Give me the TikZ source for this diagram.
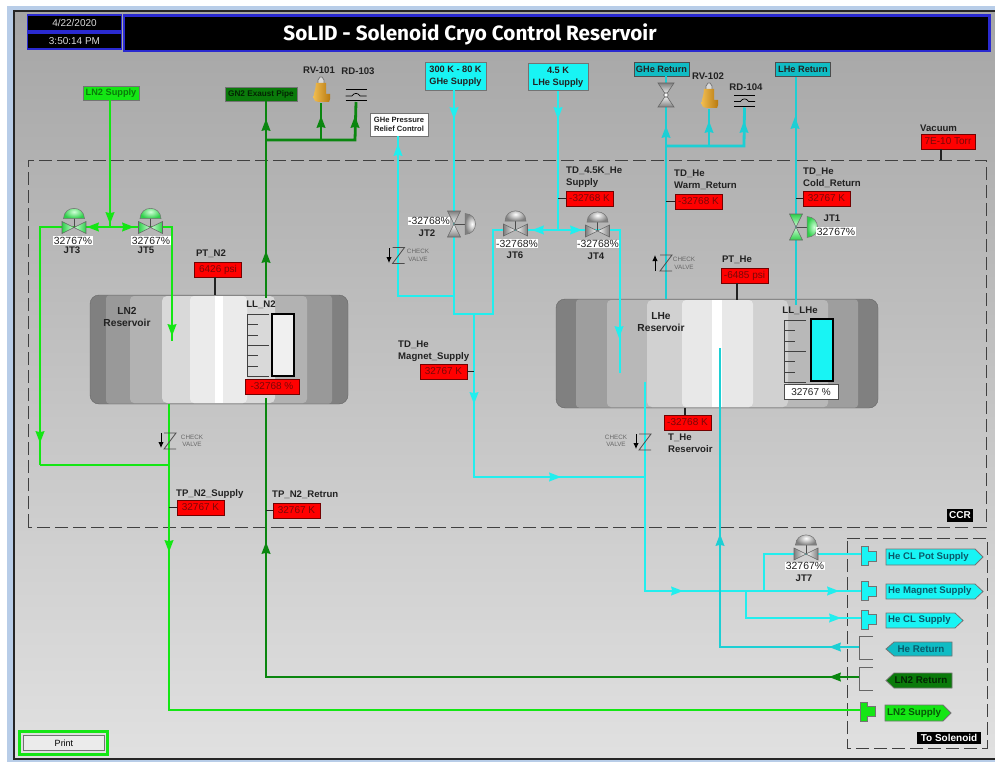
\documentclass[tikz,border=0pt]{standalone}
\usepackage{fontspec}
\usetikzlibrary{arrows.meta}
\setmainfont{Liberation Sans}
\newfontfamily\titlef{Fira Sans}
\definecolor{lnb}{HTML}{14E614}
\definecolor{lnd}{HTML}{0A860F}
\definecolor{cyb}{HTML}{22EEEE}
\definecolor{cyd}{HTML}{1CCFD4}
\definecolor{blu}{HTML}{2A2AD0}
\definecolor{redt}{HTML}{7A0808}
\definecolor{ink}{HTML}{222222}
\definecolor{tagd}{HTML}{0A7A0A}
\definecolor{tagc}{HTML}{10BCC4}
\definecolor{cyfill}{HTML}{18F4F4}
\definecolor{frm}{HTML}{B8CDE8}
\definecolor{tealt}{HTML}{0A5A6A}
\definecolor{brassa}{HTML}{F0BC50}
\definecolor{brassb}{HTML}{B87A10}
\definecolor{grn}{HTML}{2FD04A}
\definecolor{grl}{HTML}{D0FFD8}
\tikzset{
 pipeL/.style={draw=lnb,line width=2.8pt},
 pipeD/.style={draw=lnd,line width=2.8pt},
 pipeC/.style={draw=cyb,line width=2.8pt},
 pipeR/.style={draw=cyd,line width=2.8pt},
 stem/.style={draw=ink,line width=1.1pt},
 lab/.style={font=\bfseries\fontsize{9.6}{12}\selectfont,text=ink,inner sep=0pt,align=left},
 redv/.style={draw=black!55!red,line width=.8pt,fill=red,text=redt,font=\fontsize{10}{12}\selectfont,minimum width=47pt,minimum height=15pt,inner sep=0pt},
 valv/.style={fill=white,text=ink,font=\fontsize{10.4}{12}\selectfont,inner sep=.6pt},
 tagbox/.style={draw=black!55,line width=.8pt,font=\bfseries\fontsize{9.2}{12}\selectfont,inner sep=0pt,align=center},
 chk/.style={text=black!60,font=\fontsize{6.3}{7.5}\selectfont,inner sep=0pt,align=center},
 blk/.style={fill=black,text=white,font=\bfseries\fontsize{10}{12}\selectfont,inner sep=0pt},
 dsh/.style={draw=black!75,line width=.9pt,dash pattern=on 13pt off 5pt},
}
% arrows on the pipes
\newcommand\aD[3]{\fill[#3,shift={(#1,#2)}] (-4.6,-6) -- (0,-4.8) -- (4.6,-6) -- (0,6) -- cycle;}
\newcommand\aU[3]{\fill[#3,shift={(#1,#2)}] (-4.6,6) -- (0,4.8) -- (4.6,6) -- (0,-6) -- cycle;}
\newcommand\aL[3]{\fill[#3,shift={(#1,#2)}] (6,-4.6) -- (4.8,0) -- (6,4.6) -- (-6,0) -- cycle;}
\newcommand\aR[3]{\fill[#3,shift={(#1,#2)}] (-6,-4.6) -- (-4.8,0) -- (-6,4.6) -- (6,0) -- cycle;}
% control valves: horizontal body with dome on top
\newcommand\hvalve[5]{\coordinate (#1) at (#2,#3);
 \begin{scope}[shift={(#2,#3)}]
 \draw[draw=black!70,line width=1pt] (0,0) -- (0,-10);
 \shade[inner color=#4,outer color=#5,draw=black!55,line width=.5pt] (-10.5,-9) .. controls (-10,-22.5) and (10,-22.5) .. (10.5,-9) -- cycle;
 \shade[left color=#5,right color=#4,draw=black!60,line width=.6pt] (-12,-6) -- (0,0) -- (-12,6) -- cycle;
 \shade[left color=#4,right color=#5,draw=black!60,line width=.6pt] (12,-6) -- (0,0) -- (12,6) -- cycle;
 \end{scope}}
% control valves: vertical body with dome on the right
\newcommand\vvalve[5]{\coordinate (#1) at (#2,#3);
 \begin{scope}[shift={(#2,#3)}]
 \draw[draw=black!70,line width=1pt] (0,0) -- (11,0);
 \shade[inner color=#4,outer color=#5,draw=black!55,line width=.5pt] (11,-10.5) .. controls (25,-10) and (25,10) .. (11,10.5) -- cycle;
 \shade[top color=#5,bottom color=#4,draw=black!60,line width=.6pt] (-6.5,-13) -- (0,0) -- (6.5,-13) -- cycle;
 \shade[top color=#4,bottom color=#5,draw=black!60,line width=.6pt] (-6.5,13) -- (0,0) -- (6.5,13) -- cycle;
 \end{scope}}
% relief valve
\newcommand\relief[3]{\coordinate (#1) at (#2,#3);
 \begin{scope}[shift={(#2,#3)}]
 \draw[black!55,line width=.7pt,fill=black!15] (-3,-19) -- (-3,-23) -- (-1,-26) -- (1,-26) -- (3,-23) -- (3,-19) -- cycle;
 \shade[left color=brassa,right color=brassb] (-5,-20) .. controls (-5,-14) and (-7.5,-10) .. (-7.5,-5) .. controls (-7.5,-2) and (-5,-1) .. (-2,-1) -- (8,-1) -- (9,-4) -- (9,-9) -- (5,-9) .. controls (5,-13) and (5,-16) .. (5,-20) -- cycle;
 \end{scope}}
% rupture disc
\newcommand\rdisc[3]{\coordinate (#1) at (#2,#3);
 \begin{scope}[shift={(#2,#3)}]
 \draw[black,line width=1pt] (-10.5,-12) -- (10.5,-12) (-10.5,-1) -- (10.5,-1);
 \draw[black,line width=.7pt] (-10.5,-6) -- (-4,-6) .. controls (-2,-9.5) and (2,-9.5) .. (4,-6) -- (10.5,-6);
 \end{scope}}
% check valve
\newcommand\checkv[2]{\begin{scope}[shift={(#1,#2)}]
 \draw[black!70,line width=.8pt] (-6,-8) -- (6,-8) -- (-6,8) -- (6,8);
 \end{scope}}
\newcommand\flag[4]{\coordinate (#1) at (#2,#3);
 \fill[#4,draw=black!55,line width=.6pt,shift={(#2,#3)}] (0,-9.5) -- (7,-9.5) -- (7,-5) -- (15,-5) -- (15,5) -- (7,5) -- (7,9.5) -- (0,9.5) -- cycle;}
\newcommand\brkt[3]{\coordinate (#1) at (#2,#3);
 \draw[black!60,line width=.8pt,shift={(#2,#3)}] (14,-11.5) -- (0,-11.5) -- (0,11.5) -- (14,11.5);}
\begin{document}
\begin{tikzpicture}[x=1pt,y=-1pt]
\useasboundingbox (0,0) rectangle (995,762);
% window
\fill[white] (0,0) rectangle (995,762);
\fill[frm] (7,6) rectangle (995,12);
\fill[frm] (7,6) rectangle (13,762);
\fill[black!85] (13,10) rectangle (995,12.5);
\fill[black!85] (13,10) rectangle (15,762);
\shade[top color=black!35,bottom color=black!12] (15,12.5) rectangle (995,758);
\fill[frm] (13,760) rectangle (995,762);
\fill[black!85] (13,758) rectangle (995,760);
% header
\node[draw=blu,line width=1.8pt,fill=black,text=black!15,font=\fontsize{10}{12}\selectfont,minimum width=94pt,minimum height=16.5pt,inner sep=0pt] (date) at (74.5,23) {4/22/2020};
\node[draw=blu,line width=1.8pt,fill=black,text=black!15,font=\fontsize{10}{12}\selectfont,minimum width=94pt,minimum height=16.5pt,inner sep=0pt] (time) at (74.5,41) {3:50:14 PM};
\fill[blu] (123,14) rectangle (991,52);
\fill[black] (125,17) rectangle (988,50);
\node[text=white,font=\titlef\bfseries\fontsize{20.7}{24}\selectfont,inner sep=0pt] (title) at (470,34) {SoLID - Solenoid Cryo Control Reservoir};
% region borders
\draw[dsh] (28,527) -- (28,160) -- (986,160) -- (986,527) -- cycle;
\draw[dsh] (847,538) -- (987,538) -- (987,748) -- (847,748) -- cycle;
\node[blk,minimum width=26pt,minimum height=13pt] (ccr) at (960,515.5) {CCR};
\node[blk,minimum width=64pt,minimum height=12pt] (tosol) at (949,737.5) {To Solenoid};
% reservoirs
\begin{scope}
\fill[black!50,draw=black!60,rounded corners=9pt] (90,295) rectangle (348,404);
\fill[black!40,rounded corners=3pt] (106,295.5) rectangle (332,403.5);
\fill[black!30,rounded corners=4pt] (130,296) rectangle (307,403);
\fill[black!15,rounded corners=5pt] (162,296) rectangle (275,403);
\fill[black!8,rounded corners=4pt] (190,296) rectangle (247,403);
\fill[white] (215,296) rectangle (223,403);
\coordinate (resN) at (219,350);
\fill[black!50,draw=black!60,rounded corners=9pt] (556,299) rectangle (878,408);
\fill[black!38,rounded corners=3pt] (576,299.5) rectangle (858,407.5);
\fill[black!28,rounded corners=4pt] (607,300) rectangle (828,407);
\fill[black!18,rounded corners=5pt] (647,300) rectangle (788,407);
\fill[black!9,rounded corners=4pt] (682,300) rectangle (753,407);
\fill[white] (712,300) rectangle (722,407);
\coordinate (resH) at (717,350);
\end{scope}
% source / sink boxes
\node[tagbox,fill=lnb,text=tagd,minimum width=56pt,minimum height=14pt] (lnsup) at (111,93) {LN2 Supply};
\node[tagbox,fill=tagd,text=black!70!tagd,font=\bfseries\fontsize{8.2}{10}\selectfont,minimum width=72pt,minimum height=14pt] (gnex) at (261,94) {GN2 Exaust Pipe};
\node[tagbox,fill=cyfill,text=ink,minimum width=61pt,minimum height=28pt] (ghesup) at (455.5,76) {300 K - 80 K\\GHe Supply};
\node[tagbox,fill=cyfill,text=ink,minimum width=60pt,minimum height=27pt] (lhesup) at (558,77) {4.5 K\\LHe Supply};
\node[tagbox,fill=tagc,text=ink,draw=black!70,minimum width=55pt,minimum height=14pt] (gheret) at (661.5,69) {GHe Return};
\node[tagbox,fill=tagc,text=ink,draw=black!70,minimum width=55pt,minimum height=14pt] (lheret) at (803,69.5) {LHe Return};
\node[tagbox,fill=white,text=ink,font=\bfseries\fontsize{7.6}{9.5}\selectfont,minimum width=58pt,minimum height=23pt] (relief) at (399,124.5) {GHe Pressure\\Relief Control};
% junctions
\coordinate (n1) at (110,227); \coordinate (n2) at (40,227); \coordinate (n3) at (172,227);
\coordinate (n4) at (172,341); \coordinate (n5) at (40,465); \coordinate (n6) at (169,465);
\coordinate (n7) at (169,404); \coordinate (n8) at (169,710); \coordinate (n9) at (266,140);
\coordinate (n10) at (355,140); \coordinate (n11) at (321,140); \coordinate (n12) at (266,298);
\coordinate (n13) at (266,398); \coordinate (n14) at (266,677);
\coordinate (c1) at (454,296); \coordinate (c2) at (398,296); \coordinate (c3) at (454,314);
\coordinate (c4) at (493,314); \coordinate (c5) at (493,230); \coordinate (c6) at (620,230);
\coordinate (c7) at (620,373); \coordinate (c8) at (558,230); \coordinate (c9) at (474,314);
\coordinate (c10) at (474,477); \coordinate (c11) at (645,477); \coordinate (c12) at (645,382);
\coordinate (c13) at (645,591); \coordinate (c14) at (764,591); \coordinate (c15) at (764,554);
\coordinate (c16) at (746,591); \coordinate (c17) at (746,618);
\coordinate (r1) at (666,299); \coordinate (r2) at (666,146); \coordinate (r3) at (709,146);
\coordinate (r4) at (744,146); \coordinate (r5) at (796,305); \coordinate (r6) at (720,647);
\coordinate (r7) at (720,348);
% connector flags
\flag{fPot}{861}{556}{cyfill}
\flag{fMag}{861}{591}{cyfill}
\flag{fCL}{861}{619.5}{cyfill}
\flag{fLN}{860}{711.5}{lnb}
\brkt{fHeR}{859}{647.5}
\brkt{fLNR}{859}{679}
\relief{rv1}{321}{103}
\rdisc{rd3}{356}{102}
\relief{rv2}{709}{109}
\rdisc{rd4}{744.5}{107.5}
% pipes
\draw[pipeL] (lnsup.south -| n1) -- (n1);
\draw[pipeL] (n5) -- (n2) -- (n3) -- (n4);
\draw[pipeL] (n5) -- (n6);
\draw[pipeL] (n7) -- (n8) -- (fLN |- n8);
\draw[pipeD] (gnex.south -| n9) -- (n12);
\draw[pipeD] (n9) -- (n10) -- (rd3);
\draw[pipeD] (n11) -- (rv1);
\draw[pipeD] (fLNR |- n14) -- (n14) -- (n13);
\draw[pipeC] (ghesup.south -| c1) -- (c3) -- (c4) -- (c5) -- (c6) -- (c7);
\draw[pipeC] (relief.south -| c2) -- (c2) -- (c1);
\draw[pipeC] (lhesup.south -| c8) -- (c8);
\draw[pipeC] (c9) -- (c10) -- (c11) -- (c12);
\draw[pipeC] (c11) -- (c13) -- (fMag);
\draw[pipeC] (c14) -- (c15) -- (fPot |- c15);
\draw[pipeC] (c16) -- (c17) -- (fCL |- c17);
\draw[pipeR] (gheret.south -| r1) -- (r1);
\draw[pipeR] (r2) -- (r4) -- (rd4);
\draw[pipeR] (r3) -- (rv2);
\draw[pipeR] (lheret.south -| r5) -- (r5);
\draw[pipeR] (fHeR |- r6) -- (r6) -- (r7);
% flow arrows
\aD{110}{218}{lnb} \aL{93}{227}{lnb} \aR{128}{227}{lnb} \aD{172}{330}{lnb} \aD{40}{437}{lnb} \aD{169}{546}{lnb}
\aU{266}{125}{lnd} \aU{266}{257}{lnd} \aU{321}{122}{lnd} \aU{355}{122}{lnd} \aL{835}{677}{lnd} \aU{266}{548}{lnd}
\aD{454}{113}{cyb} \aU{398}{150}{cyb} \aD{558}{113}{cyb} \aL{538}{230}{cyb} \aR{576}{230}{cyb} \aD{619}{332}{cyb}
\aD{474}{398}{cyb} \aR{555}{477}{cyb} \aR{677}{591}{cyb} \aR{833}{591}{cyb} \aR{835}{618}{cyb}
\aU{666}{132}{cyd} \aU{709}{127}{cyd} \aU{744}{127}{cyd} \aU{795}{123}{cyd} \aL{835}{647}{cyd} \aU{720}{540}{cyd}
% valves
\hvalve{jt3}{74}{227.5}{grl}{grn}
\hvalve{jt5}{150.5}{227.5}{grl}{grn}
\hvalve{jt6}{515.5}{230}{white}{black!50}
\hvalve{jt4}{597.5}{231}{white}{black!50}
\hvalve{jt7}{806}{554}{white}{black!50}
\vvalve{jt2}{454}{224}{white}{black!50}
\vvalve{jt1}{796}{227}{grl}{grn}
\begin{scope}[shift={(666,95)}]
\coordinate (hv) at (0,0);
\shade[top color=black!50,bottom color=white,draw=black!60,line width=.6pt] (-8,-12) -- (0,0) -- (8,-12) -- cycle;
\shade[top color=white,bottom color=black!50,draw=black!60,line width=.6pt] (-8,12) -- (0,0) -- (8,12) -- cycle;
\fill[white,draw=black!60,line width=.5pt] (-2.5,0) -- (0,-2.5) -- (2.5,0) -- (0,2.5) -- cycle;
\end{scope}
% check valves
\checkv{170}{441}\checkv{398.5}{255.5}\checkv{666}{263}\checkv{645}{442}
\draw[black,line width=.9pt,-{Latex[length=6pt,width=5.5pt]}] (161,433) -- (161,448);
\draw[black,line width=.9pt,-{Latex[length=6pt,width=5.5pt]}] (389,248) -- (389,263);
\draw[black,line width=.9pt,-{Latex[length=6pt,width=5.5pt]}] (655,271) -- (655,255);
\draw[black,line width=.9pt,-{Latex[length=6pt,width=5.5pt]}] (636,434) -- (636,449);
\node[chk] (cv1) at (192,441) {CHECK\\VALVE};
\node[chk] (cv2) at (418,255.5) {CHECK\\VALVE};
\node[chk] (cv3) at (684,263.5) {CHECK\\VALVE};
\node[chk] (cv4) at (616,441) {CHECK\\VALVE};
% valve labels
\node[valv] (vjt3) at (73,240.5) {32767\%}; \node[lab] (ljt3) at (72,250.5) {JT3};
\node[valv] (vjt5) at (151,240.5) {32767\%}; \node[lab] (ljt5) at (146,250.5) {JT5};
\node[valv] (vjt2) at (429,221) {-32768\%}; \node[lab] (ljt2) at (427,233) {JT2};
\node[valv] (vjt6) at (517,243.5) {-32768\%}; \node[lab] (ljt6) at (515,255.5) {JT6};
\node[valv] (vjt4) at (598,244) {-32768\%}; \node[lab] (ljt4) at (596,256) {JT4};
\node[valv] (vjt1) at (836,231.5) {32767\%}; \node[lab] (ljt1) at (832,218.5) {JT1};
\node[valv] (vjt7) at (805,566) {32767\%}; \node[lab] (ljt7) at (804,578) {JT7};
\node[lab] (lrv1) at (319,70.5) {RV-101}; \node[lab] (lrd3) at (358,71) {RD-103};
\node[lab] (lrv2) at (708,76) {RV-102}; \node[lab] (lrd4) at (746,87) {RD-104};
% instruments
\node[redv] (ptn) at (218,269.5) {6426 psi};
\node[lab] (lptn) at (211,253.5) {PT\_N2};
\draw[stem] (215,277) -- (215,295);
\node[redv] (tdsup) at (589.5,198.5) {-32768 K};
\node[lab,anchor=west] (ltdsup) at (566,177.5) {TD\_4.5K\_He\\Supply};
\draw[stem] (tdsup.west) -- (tdsup.west -| c8);
\node[redv] (tdwarm) at (698.5,201.5) {-32768 K};
\node[lab,anchor=west] (ltdw) at (674,180) {TD\_He\\Warm\_Return};
\draw[stem] (tdwarm.west) -- (tdwarm.west -| r1);
\node[redv] (tdcold) at (826.5,198.5) {32767 K};
\node[lab,anchor=west] (ltdc) at (803,177.5) {TD\_He\\Cold\_Return};
\draw[stem] (tdcold.west) -- (tdcold.west -| r5);
\node[redv] (pthe) at (744.5,275.5) {-6485 psi};
\node[lab] (lpthe) at (737,259.5) {PT\_He};
\draw[stem] (737,283) -- (737,300);
\node[redv,minimum width=54pt] (vac) at (948,141.5) {7E-10 Torr};
\node[lab,anchor=west] (lvac) at (920,128.5) {Vacuum};
\draw[stem] (941,149) -- (941,160);
\node[redv] (tdmag) at (443.5,371.5) {32767 K};
\node[lab,anchor=west] (ltdm) at (398,351) {TD\_He\\Magnet\_Supply};
\draw[stem] (tdmag.east) -- (tdmag.east -| c9);
\node[redv] (the) at (687.5,422.5) {-32768 K};
\node[lab,anchor=west] (lthe) at (668,443) {T\_He\\Reservoir};
\draw[stem] (685,408) -- (685,415);
\node[redv] (tpsup) at (200.5,507.5) {32767 K};
\node[lab,anchor=west] (ltps) at (176,494) {TP\_N2\_Supply};
\draw[stem] (tpsup.west) -- (tpsup.west -| n7);
\node[redv] (tpret) at (296.5,510.5) {32767 K};
\node[lab,anchor=west] (ltpr) at (272,495) {TP\_N2\_Retrun};
\draw[stem] (tpret.west) -- (tpret.west -| n13);
% reservoir labels
\node[lab,font=\bfseries\fontsize{10.2}{12.5}\selectfont,align=center] (lnres) at (127,317) {LN2\\Reservoir};
\node[lab,font=\bfseries\fontsize{10.2}{12.5}\selectfont,align=center] (heres) at (661,322) {LHe\\Reservoir};
% gauges
\node[lab] (lln) at (261,305) {LL\_N2};
\draw[black!75,line width=.7pt] (269,314) -- (247,314) -- (247,376) -- (269,376) (247,345) -- (269,345)
 (247,324.5) -- (258,324.5) (247,335) -- (258,335) (247,355.5) -- (258,355.5) (247,366) -- (258,366);
\node[draw=black,line width=1.2pt,fill=black!6,minimum width=22pt,minimum height=62pt,inner sep=0pt] (barN) at (283,345) {};
\node[redv,minimum width=54pt] (valN) at (272,386.5) {-32768 \%};
\node[lab] (llh) at (800,311) {LL\_LHe};
\draw[black!75,line width=.7pt] (806,320) -- (784,320) -- (784,382) -- (806,382) (784,351) -- (806,351)
 (784,330.5) -- (795,330.5) (784,341) -- (795,341) (784,361.5) -- (795,361.5) (784,372) -- (795,372);
\node[draw=black,line width=1.2pt,fill=cyfill,minimum width=22pt,minimum height=62pt,inner sep=0pt] (barH) at (822,350) {};
\node[draw=black!70,line width=.7pt,fill=white,text=ink,font=\fontsize{10}{12}\selectfont,minimum width=54pt,minimum height=15pt,inner sep=0pt] (valH) at (811,392) {32767 \%};
% solenoid tags
\draw[tagbox,fill=cyfill] (886,549) -- (975,549) -- (983,557) -- (975,565) -- (886,565) -- cycle;
\node[lab,anchor=west,text=tealt] (tPot) at (888,557) {He CL Pot Supply};
\draw[tagbox,fill=cyfill] (886,584) -- (975,584) -- (983,591.5) -- (975,599) -- (886,599) -- cycle;
\node[lab,anchor=west,text=tealt] (tMag) at (888,591.5) {He Magnet Supply};
\draw[tagbox,fill=cyfill] (886,613) -- (955,613) -- (963,620.5) -- (955,628) -- (886,628) -- cycle;
\node[lab,anchor=west,text=tealt] (tCL) at (888,620.5) {He CL Supply};
\draw[tagbox,fill=tagc] (886,649) -- (894,642) -- (952,642) -- (952,656) -- (894,656) -- cycle;
\node[lab,text=tealt,font=\bfseries\fontsize{9.8}{12}\selectfont] (tHeR) at (921,649) {He Return};
\draw[tagbox,fill=tagd] (886,680.5) -- (894,673) -- (952,673) -- (952,688) -- (894,688) -- cycle;
\node[lab,text=black!70!tagd,font=\bfseries\fontsize{9.8}{12}\selectfont] (tLNR) at (921,680.5) {LN2 Return};
\draw[tagbox,fill=lnb] (885,705) -- (943,705) -- (951,713) -- (943,721) -- (885,721) -- cycle;
\node[lab,anchor=west,text=tagd!70!black,font=\bfseries\fontsize{9.8}{12}\selectfont] (tLNS) at (887,713) {LN2 Supply};
% print button
\node[draw=lnb,line width=2.5pt,minimum width=88pt,minimum height=23pt,inner sep=0pt] (prnOut) at (63.5,743) {};
\node[draw=black!55,line width=1.1pt,fill=black!8,text=black,font=\fontsize{9}{11}\selectfont,minimum width=81pt,minimum height=15.5pt,inner sep=0pt] (prn) at (64,743) {Print};
\end{tikzpicture}
\end{document}
